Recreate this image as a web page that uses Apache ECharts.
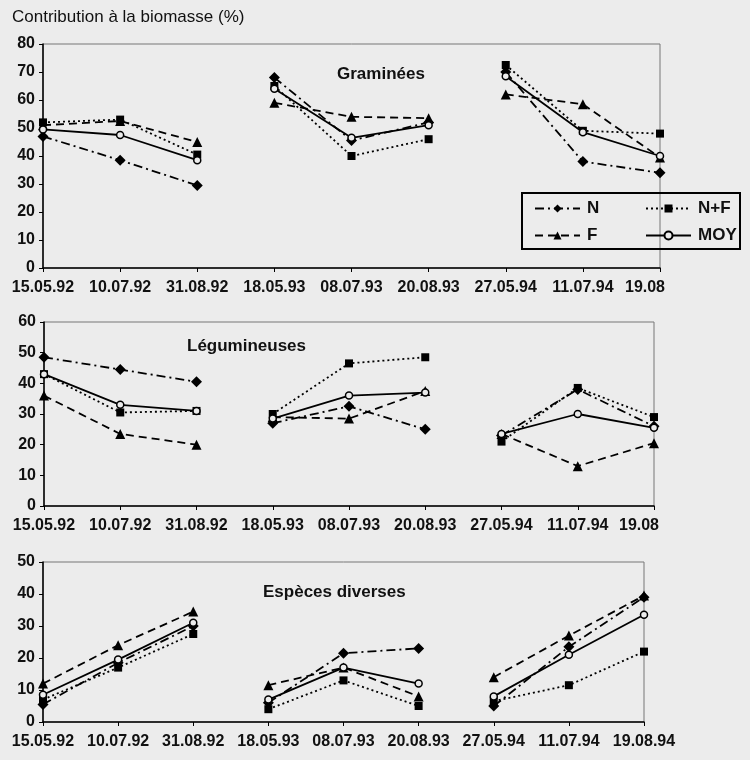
<!DOCTYPE html>
<html>
<head>
<meta charset="utf-8">
<script src="https://cdn.jsdelivr.net/npm/echarts@6/dist/echarts.min.js"></script>
<style>
  html, body { margin: 0; padding: 0; background: #ececec; }
  #chart { width: 750px; height: 760px; }
</style>
</head>
<body>
<div id="chart"></div>
<script>
// sampling dates (the two upper panels show the last one cut off)
const dates = ['15.05.92', '10.07.92', '31.08.92', '18.05.93', '08.07.93', '20.08.93', '27.05.94', '11.07.94', '19.08.94'];
const datesCut = ['15.05.92', '10.07.92', '31.08.92', '18.05.93', '08.07.93', '20.08.93', '27.05.94', '11.07.94', '19.08'];
const treatments = ['N', 'N+F', 'F', 'MOY'];

// Graminées
const gramN   = [47, 38.5, 29.5, 68, 45.5, 52, 70, 38, 34];
const gramNF  = [52, 53, 40.5, 65, 40, 46, 72.5, 49, 48];
const gramF   = [51, 52.5, 45, 59, 54, 53.5, 62, 58.5, 39.5];
const gramMOY = [49.5, 47.5, 38.5, 64, 46.5, 51, 68.5, 48.5, 40];

// Légumineuses
const legN   = [48.5, 44.5, 40.5, 27, 32.5, 25, 23, 38, 26];
const legNF  = [43, 30.5, 31, 30, 46.5, 48.5, 21, 38.5, 29];
const legF   = [36, 23.5, 20, 29, 28.5, 37.5, 23.5, 13, 20.5];
const legMOY = [43, 33, 31, 28.5, 36, 37, 23.5, 30, 25.5];

// Espèces diverses
const divN   = [5.5, 18.5, 30, 6, 21.5, 23, 5, 23.5, 39];
const divNF  = [7, 17, 27.5, 4, 13, 5, 6.5, 11.5, 22];
const divF   = [12, 24, 34.5, 11.5, 17, 8, 14, 27, 39.5];
const divMOY = [8.5, 19.5, 31, 7, 17, 12, 8, 21, 33.5];

const panelMax = [80, 60, 50];
const panelTitles = ['Graminées', 'Légumineuses', 'Espèces diverses'];

const bg = '#ececec';
const font = 'Liberation Sans, Arial, sans-serif';

const styles = {
  'N':   { symbol: 'diamond',  size: 11, dash: [9, 4, 2, 4], fill: '#000' },
  'N+F': { symbol: 'rect',     size: 8,  dash: [2, 3],       fill: '#000' },
  'F':   { symbol: 'triangle', size: 10, dash: [8, 5],       fill: '#000' },
  'MOY': { symbol: 'circle',   size: 7,  dash: 'solid',      fill: bg }
};

const chart = echarts.init(document.getElementById('chart'));

const grids = [
  { left: 43, top: 44, width: 617, height: 224 },
  { left: 44, top: 322, width: 610, height: 184 },
  { left: 43, top: 562, width: 601, height: 160 }
].map(g => Object.assign(g, { show: true, borderColor: '#777', borderWidth: 1 }));

const labelStyle = { color: '#111', fontSize: 16, fontWeight: 'bold', fontFamily: font };

const xAxes = grids.map((g, i) => ({
  type: 'category',
  gridIndex: i,
  data: i === 2 ? dates : datesCut,
  boundaryGap: false,
  axisLine: { lineStyle: { color: '#000', width: 1.5 } },
  axisTick: { show: true, length: 4, lineStyle: { color: '#000' } },
  axisLabel: Object.assign({
    margin: 12,
    interval: 0,
    // the cut last label sits left of its tick, as in the original
    formatter: v => (v === '19.08' ? '{cut|' + v + '}' : v),
    rich: { cut: Object.assign({ padding: [0, 30, 0, 0] }, labelStyle) }
  }, labelStyle),
  splitLine: { show: false }
}));

const yAxes = grids.map((g, i) => ({
  type: 'value',
  gridIndex: i,
  min: 0,
  max: panelMax[i],
  interval: 10,
  axisLine: { show: true, lineStyle: { color: '#000', width: 1.5 } },
  axisTick: { show: true, length: 4, lineStyle: { color: '#000' } },
  axisLabel: Object.assign({ margin: 8 }, labelStyle),
  splitLine: { show: false }
}));

function makeSeries(panel, name, values) {
  const st = styles[name];
  const out = [];
  for (let yr = 0; yr < 3; yr++) {
    out.push({
      name: name,
      type: 'line',
      xAxisIndex: panel,
      yAxisIndex: panel,
      data: values.map((v, i) => (Math.floor(i / 3) === yr ? v : '-')),
      symbol: st.symbol,
      symbolSize: st.size,
      showAllSymbol: true,
      lineStyle: { color: '#000', width: 1.8, type: st.dash },
      itemStyle: { color: st.fill, borderColor: '#000', borderWidth: name === 'MOY' ? 1.5 : 0 },
      emphasis: { disabled: true },
      z: name === 'MOY' ? 5 : 3
    });
  }
  return out;
}

const panelData = [
  [gramN, gramNF, gramF, gramMOY],
  [legN, legNF, legF, legMOY],
  [divN, divNF, divF, divMOY]
];

let series = [];
panelData.forEach((vals, p) => {
  treatments.forEach((t, k) => {
    series = series.concat(makeSeries(p, t, vals[k]));
  });
});

const legendBase = {
  orient: 'vertical',
  top: 200,
  itemWidth: 45,
  itemHeight: 10,
  itemGap: 10,
  padding: 0,
  selectedMode: false,
  textStyle: { color: '#111', fontSize: 17, fontWeight: 'bold', fontFamily: font, padding: [0, 0, 0, 2] }
};

chart.setOption({
  backgroundColor: bg,
  animation: false,
  title: [
    { text: 'Contribution à la biomasse (%)', left: 12, top: 9, padding: 0,
      textStyle: { color: '#111', fontSize: 17, fontWeight: 'normal', fontFamily: font } },
    { text: panelTitles[0], left: 337, top: 66, padding: 0,
      textStyle: { color: '#111', fontSize: 17, fontWeight: 'bold', fontFamily: font } },
    { text: panelTitles[1], left: 187, top: 338, padding: 0,
      textStyle: { color: '#111', fontSize: 17, fontWeight: 'bold', fontFamily: font } },
    { text: panelTitles[2], left: 263, top: 584, padding: 0,
      textStyle: { color: '#111', fontSize: 17, fontWeight: 'bold', fontFamily: font } }
  ],
  legend: [
    Object.assign({ left: 534, data: ['N', 'F'] }, legendBase),
    Object.assign({ left: 645, data: ['N+F', 'MOY'] }, legendBase)
  ],
  graphic: [{
    type: 'rect',
    shape: { x: 522, y: 193, width: 218, height: 56 },
    style: { fill: 'none', stroke: '#000', lineWidth: 2 },
    z: 10
  }],
  grid: grids,
  xAxis: xAxes,
  yAxis: yAxes,
  series: series
});
</script>
</body>
</html>
